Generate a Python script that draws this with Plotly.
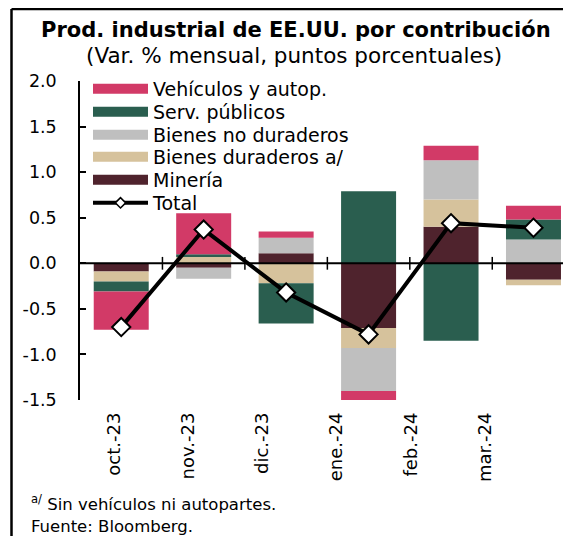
import plotly.graph_objects as go

months = ["oct.-23", "nov.-23", "dic.-23", "ene.-24", "feb.-24", "mar.-24"]
mineria = [-0.09, -0.05, 0.11, -0.71, 0.40, -0.18]
duraderos = [-0.11, 0.07, -0.22, -0.22, 0.30, -0.06]
no_duraderos = [0.0, -0.12, 0.17, -0.47, 0.43, 0.26]
serv_publicos = [-0.11, 0.03, -0.44, 0.79, -0.85, 0.22]
vehiculos = [-0.42, 0.45, 0.07, -0.13, 0.16, 0.15]
total = [-0.70, 0.37, -0.32, -0.78, 0.44, 0.39]
y_ticks = [-1.5, -1.0, -0.5, 0.0, 0.5, 1.0, 1.5, 2.0]

FONT = "DejaVu Sans"

# name, values, colour, legend row (0 = top)
series = [
    ("Minería", mineria, "#4F232D", 4),
    ("Bienes duraderos a/", duraderos, "#D6C29C", 3),
    ("Bienes no duraderos", no_duraderos, "#BFBFBF", 2),
    ("Serv. públicos", serv_publicos, "#2A5E4F", 1),
    ("Vehículos y autop.", vehiculos, "#D23A67", 0),
]

# ---- layout geometry (screen pixels; the page body adds an 8px offset) ----
OFF = 8
FIG_W, FIG_H = 571 - OFF, 536 - OFF
M_L, M_T = 3, 1
PAPER_W, PAPER_H = FIG_W - M_L, FIG_H - M_T


def px(sx):
    return (sx - OFF - M_L) / PAPER_W


def py(sy):
    return (FIG_H - (sy - OFF)) / PAPER_H


PLOT_LEFT, PLOT_TOP, PLOT_BOTTOM = 80, 81, 400
x_domain = [px(PLOT_LEFT), 1.0]
y_domain = [py(PLOT_BOTTOM), py(PLOT_TOP)]
legend_rows = [89, 112, 135, 157, 180, 203]


def legend_id(row):
    return "legend" if row == 0 else f"legend{row + 1}"


fig = go.Figure()
for name, vals, col, row in series:
    fig.add_trace(go.Bar(x=months, y=vals, name=name, showlegend=False,
                         marker=dict(color=col, line=dict(width=0)),
                         hoverinfo="skip"))
    fig.add_trace(go.Scatter(x=[None], y=[None], mode="lines", name=name,
                             line=dict(color=col, width=12), legend=legend_id(row)))

fig.add_trace(go.Scatter(x=months, y=total, mode="lines+markers", name="Total",
                         line=dict(color="black", width=4), showlegend=False,
                         marker=dict(symbol="diamond", size=14, color="white",
                                     line=dict(color="black", width=2))))
fig.add_trace(go.Scatter(x=[None], y=[None], mode="lines+markers", name="Total",
                         line=dict(color="black", width=4), legend=legend_id(5),
                         marker=dict(symbol="diamond", size=8, color="white",
                                     line=dict(color="black", width=1.5))))

# helper trace for the category label axis
fig.add_trace(go.Scatter(x=list(range(len(months))), y=[None] * len(months),
                         xaxis="x2", showlegend=False, hoverinfo="skip"))

shapes = [dict(type="line", xref="x domain", yref="y", x0=0, x1=1, y0=0, y1=0,
               line=dict(color="black", width=2), layer="above")]
for i in range(len(months) - 1):
    shapes.append(dict(type="line", xref="x", yref="y", x0=i + 0.5, x1=i + 0.5,
                       y0=-0.07, y1=0.07, line=dict(color="black", width=1.5),
                       layer="above"))
# outer frame: left and top edges
shapes.append(dict(type="line", xref="paper", yref="paper", x0=px(11.5), x1=px(11.5),
                   y0=py(9), y1=py(540), line=dict(color="black", width=2.5), layer="above"))
shapes.append(dict(type="line", xref="paper", yref="paper", x0=px(11.5), x1=px(575),
                   y0=py(9), y1=py(9), line=dict(color="black", width=2.5), layer="above"))

annotations = [
    dict(text="<b>Prod. industrial de EE.UU. por contribución</b>", xref="paper", yref="paper",
         x=px(296), y=py(30), showarrow=False, font=dict(size=21, color="black", family=FONT),
         xanchor="center", yanchor="middle"),
    dict(text="(Var. % mensual, puntos porcentuales)", xref="paper", yref="paper",
         x=px(294), y=py(55), showarrow=False, font=dict(size=21.5, color="black", family=FONT),
         xanchor="center", yanchor="middle"),
    dict(text="<sup>a/</sup> Sin vehículos ni autopartes.", xref="paper", yref="paper",
         x=px(29), y=py(503), showarrow=False, font=dict(size=16.5, color="black", family=FONT),
         xanchor="left", yanchor="middle"),
    dict(text="Fuente: Bloomberg.", xref="paper", yref="paper",
         x=px(29), y=py(526), showarrow=False, font=dict(size=16.5, color="black", family=FONT),
         xanchor="left", yanchor="middle"),
]

layout_legends = {}
for row in range(6):
    layout_legends[legend_id(row)] = dict(
        x=px(88), y=py(legend_rows[row]), xanchor="left", yanchor="middle",
        bgcolor="rgba(0,0,0,0)", font=dict(size=19, family=FONT, color="black"),
        itemwidth=55, borderwidth=0)

noax = dict(showgrid=False, zeroline=False, ticks="", automargin=False)

fig.update_layout(
    width=FIG_W, height=FIG_H,
    margin=dict(l=M_L, r=0, t=M_T, b=0, pad=0, autoexpand=False),
    paper_bgcolor="white", plot_bgcolor="rgba(0,0,0,0)",
    barmode="relative", bargap=0.333,
    font=dict(family=FONT, size=17, color="black"),
    showlegend=True,
    xaxis=dict(type="category", range=[-0.5, 5.455], showticklabels=False,
               showline=False, domain=x_domain, anchor="y", **noax),
    xaxis2=dict(overlaying="x", anchor="y", side="bottom", range=[-0.458, 6.159],
                tickmode="array", tickvals=list(range(len(months))), ticktext=months,
                tickangle=-90, showline=False, domain=x_domain,
                tickfont=dict(size=18, family=FONT), ticklabelstandoff=8, **noax),
    yaxis=dict(range=[-1.5, 2.0], tickmode="array", tickvals=y_ticks,
               ticktext=[f"{v:.1f}" for v in y_ticks], domain=y_domain, anchor="x",
               showline=True, linecolor="black", linewidth=1.5,
               ticks="inside", ticklen=6, tickcolor="black", tickwidth=1.5,
               showgrid=False, zeroline=False, ticklabelstandoff=18,
               tickfont=dict(size=17.5, family=FONT), automargin=False),
    shapes=shapes,
    annotations=annotations,
    **layout_legends,
)

fig.write_html("out.html")
